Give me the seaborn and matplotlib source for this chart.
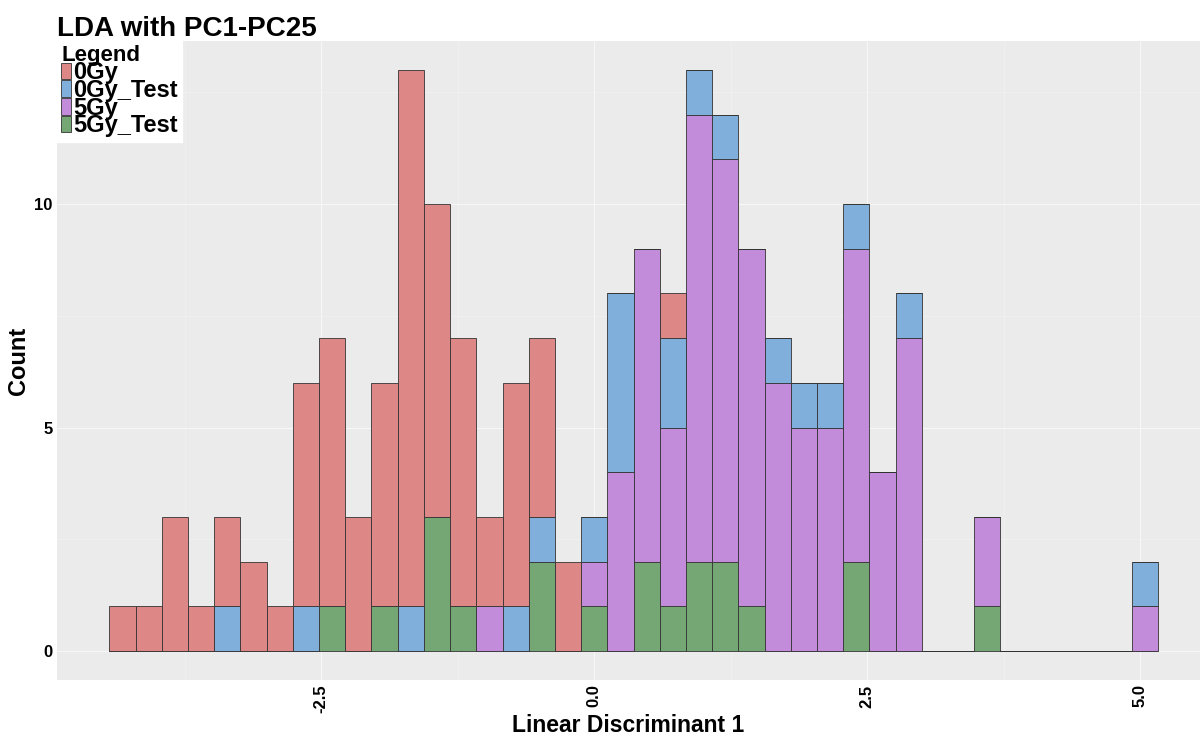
import numpy as np
import pandas as pd
import matplotlib
matplotlib.use("Agg")
import matplotlib.pyplot as plt
from matplotlib.ticker import MultipleLocator
import seaborn as sns

# ---------------- data ----------------
groups = ["0Gy", "0Gy_Test", "5Gy", "5Gy_Test"]
colors = ["#DD8787", "#80AFDC", "#C28CDB", "#74A774"]

bin_width = 0.24
first_bin_center = -4.32
n_bins = 40

counts_0Gy = [1, 1, 3, 1, 2, 2, 1, 5, 6, 3, 5, 12, 7, 6, 2, 5, 4, 2, 0, 0,
              0, 1, 0, 0, 0, 0, 0, 0, 0, 0, 0, 0, 0, 0, 0, 0, 0, 0, 0, 0]
counts_0Gy_Test = [0, 0, 0, 0, 1, 0, 0, 1, 0, 0, 0, 1, 0, 0, 0, 1, 1, 0, 1, 4,
                   0, 2, 1, 1, 0, 1, 1, 1, 1, 0, 1, 0, 0, 0, 0, 0, 0, 0, 0, 1]
counts_5Gy = [0, 0, 0, 0, 0, 0, 0, 0, 0, 0, 0, 0, 0, 0, 1, 0, 0, 0, 1, 4,
              7, 4, 10, 9, 8, 6, 5, 5, 7, 4, 7, 0, 0, 2, 0, 0, 0, 0, 0, 1]
counts_5Gy_Test = [0, 0, 0, 0, 0, 0, 0, 0, 1, 0, 1, 0, 3, 1, 0, 0, 2, 0, 1, 0,
                   2, 1, 2, 2, 1, 0, 0, 0, 2, 0, 0, 0, 0, 1, 0, 0, 0, 0, 0, 0]

x_ticks = [-2.5, 0.0, 2.5, 5.0]
x_tick_labels = ["-2.5", "0.0", "2.5", "5.0"]
y_ticks = [0, 5, 10]

title = "LDA with PC1-PC25"
x_label = "Linear Discriminant 1"
y_label = "Count"
legend_title = "Legend"

# ---------------- build table ----------------
centers = first_bin_center + bin_width * np.arange(n_bins)
edges = np.append(centers - bin_width / 2, centers[-1] + bin_width / 2)
all_counts = [counts_0Gy, counts_0Gy_Test, counts_5Gy, counts_5Gy_Test]
df = pd.concat(
    [pd.DataFrame({"ld1": centers, "count": c, "group": g}) for g, c in zip(groups, all_counts)],
    ignore_index=True,
)

# ---------------- style ----------------
sns.set_theme(style="darkgrid")
plt.rcParams["font.family"] = ["Liberation Sans", "DejaVu Sans"]
plt.rcParams["axes.facecolor"] = "#EBEBEB"
plt.rcParams["grid.color"] = "white"
plt.rcParams["text.color"] = "black"
plt.rcParams["axes.labelcolor"] = "black"

fig = plt.figure(figsize=(12, 7.38), dpi=100)
fig.patch.set_facecolor("white")
W, H = 1200, 738
ax = fig.add_axes([57 / W, (H - 680) / H, (1200 - 57) / W, (680 - 41) / H])

sns.histplot(
    data=df, x="ld1", weights="count", hue="group", hue_order=groups,
    palette=colors, multiple="stack", bins=edges.tolist(), alpha=1.0,
    edgecolor="#333333", linewidth=0.6, ax=ax,
)

# axes limits (ggplot-like expansion)
lo, hi = edges[0], edges[-1]
pad = 0.05 * (hi - lo)
px_per_unit = 109.2
ax.set_xlim(lo - pad, lo - pad + (1200 - 57) / px_per_unit)
ymax = 13
ax.set_ylim(-0.05 * ymax, 1.05 * ymax)

# grid
ax.set_axisbelow(True)
ax.xaxis.set_major_locator(plt.FixedLocator(x_ticks))
ax.xaxis.set_minor_locator(MultipleLocator(1.25))
ax.yaxis.set_major_locator(plt.FixedLocator(y_ticks))
ax.yaxis.set_minor_locator(MultipleLocator(2.5))
ax.grid(which="major", color="#F7F7F7", linewidth=0.8)
ax.grid(which="minor", color="#F1F1F1", linewidth=0.5)
for s in ax.spines.values():
    s.set_visible(False)

ax.set_xticks(x_ticks)
ax.set_xticklabels(x_tick_labels, rotation=90, fontsize=12, fontweight="bold", color="black")
ax.set_yticks(y_ticks)
ax.set_yticklabels([str(v) for v in y_ticks], fontsize=12, fontweight="bold", color="black")
ax.tick_params(axis="both", which="major", length=2.4, width=0.8, color="#555555", pad=0.8)
ax.tick_params(axis="both", which="minor", length=0)

ax.set_xlabel(x_label, fontsize=16.5, fontweight="bold", labelpad=1)
ax.set_ylabel(y_label, fontsize=17, fontweight="bold", labelpad=3)

fig.text(57 / W, 1 - 36 / H, title, fontsize=20, fontweight="bold", ha="left", va="baseline")

# legend
sns.move_legend(
    ax, "upper left", bbox_to_anchor=(0, 1), title=legend_title,
    frameon=True, fontsize=17, title_fontsize=16,
    handlelength=0.43, handleheight=0.68, handletextpad=0.09,
    labelspacing=-0.22, borderpad=0.18, borderaxespad=0, fancybox=False,
)
leg = ax.get_legend()
leg.get_frame().set_facecolor("white")
leg.get_frame().set_edgecolor("white")
leg.get_frame().set_alpha(1)
leg.get_title().set_fontweight("bold")
leg._legend_box.align = "left"
for t in leg.get_texts():
    t.set_fontweight("bold")
for h in leg.legend_handles:
    h.set_edgecolor("#333333")
    h.set_linewidth(0.6)

fig.savefig("out.png", dpi=100, facecolor="white")
